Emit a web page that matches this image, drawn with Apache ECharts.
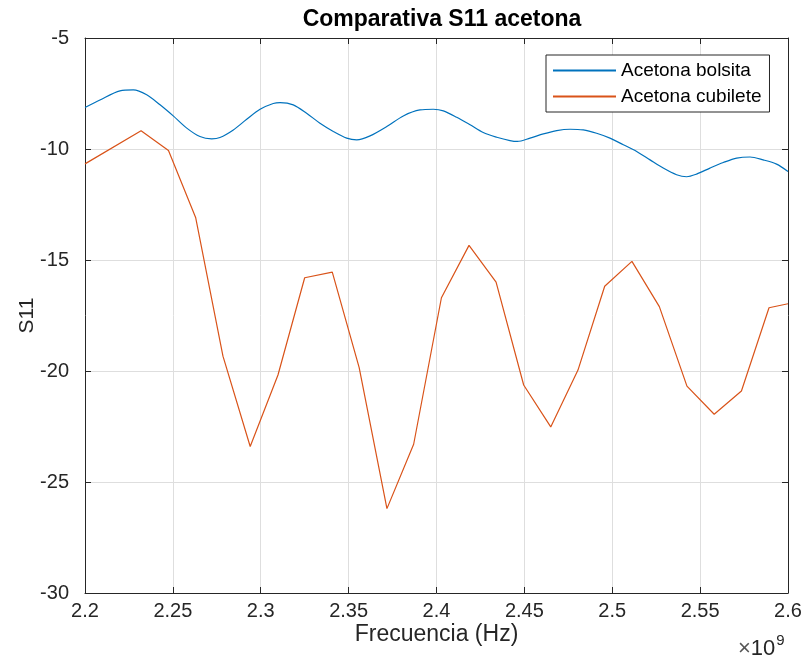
<!DOCTYPE html>
<html>
<head>
<meta charset="utf-8">
<script src="https://cdn.jsdelivr.net/npm/echarts@6/dist/echarts.min.js"></script>
<style>
  html, body { margin: 0; padding: 0; background: #fff; }
  #chart { width: 807px; height: 664px; }
</style>
</head>
<body>
<div id="chart"></div>
<script>
// Frequency in GHz (axis shows x10^9 multiplier), S11 in dB
const bolsitaFreq = [2.2, 2.2085, 2.2199, 2.2275, 2.2351, 2.2427, 2.2502, 2.2579, 2.2654, 2.2721,
  2.2768, 2.2844, 2.292, 2.2996, 2.3071, 2.311, 2.3185, 2.3261, 2.3337, 2.3413,
  2.3489, 2.3546, 2.3622, 2.3717, 2.3811, 2.3906, 2.3982, 2.4039, 2.4115, 2.4191,
  2.4266, 2.4343, 2.4418, 2.446, 2.4532, 2.4608, 2.4684, 2.476, 2.4835, 2.4911,
  2.4987, 2.5063, 2.5139, 2.5215, 2.529, 2.5366, 2.5423, 2.548, 2.5556, 2.5632,
  2.5708, 2.5784, 2.5859, 2.5935, 2.6];
const bolsitaS11 = [-8.13, -7.79, -7.38, -7.34, -7.56, -8.01, -8.51, -9.06, -9.44, -9.54,
  -9.48, -9.14, -8.66, -8.21, -7.95, -7.91, -8.01, -8.39, -8.84, -9.21,
  -9.51, -9.59, -9.41, -8.99, -8.51, -8.24, -8.21, -8.28, -8.57, -8.91,
  -9.26, -9.47, -9.62, -9.66, -9.51, -9.32, -9.17, -9.11, -9.14, -9.29,
  -9.51, -9.81, -10.11, -10.49, -10.86, -11.16, -11.25, -11.13, -10.86, -10.61,
  -10.41, -10.36, -10.49, -10.68, -11.01];

const cubileteFreq = [2.2, 2.2319, 2.2475, 2.263, 2.2785, 2.294, 2.3098, 2.325, 2.3407, 2.356,
  2.3718, 2.387, 2.4028, 2.4185, 2.4339, 2.4496, 2.465, 2.4805, 2.4957, 2.5112,
  2.5268, 2.5425, 2.558, 2.5735, 2.5892, 2.6];
const cubileteS11 = [-10.67, -9.18, -10.07, -13.1, -19.33, -23.4, -20.18, -15.8, -15.55, -19.85,
  -26.2, -23.3, -16.7, -14.34, -16.0, -20.63, -22.52, -19.96, -16.18, -15.06,
  -17.1, -20.68, -21.95, -20.9, -17.15, -16.97];

const seriesNames = ['Acetona bolsita', 'Acetona cubilete'];
const titleText = 'Comparativa S11 acetona';
const xLabel = 'Frecuencia (Hz)';
const yLabel = 'S11';

const FONT = 'Liberation Sans, Arial, Helvetica, sans-serif';
const AXIS_COLOR = '#262626';

const pairs = (xs, ys) => xs.map((x, i) => [x, ys[i]]);
const fmtX = v => String(Math.round(v * 100) / 100);

const boxAxis = {
  axisLine: { show: true, lineStyle: { color: AXIS_COLOR, width: 1 } },
  axisTick: { show: true, inside: true, length: 6, lineStyle: { color: AXIS_COLOR } },
  axisLabel: { show: false },
  splitLine: { show: false }
};

const chart = echarts.init(document.getElementById('chart'), null, { renderer: 'canvas' });
chart.setOption({
  backgroundColor: '#ffffff',
  animation: false,
  title: {
    text: titleText,
    left: 437,
    top: 3,
    textAlign: 'center',
    textStyle: { fontFamily: FONT, fontSize: 23, fontWeight: 'bold', color: '#000' }
  },
  grid: { left: 85, right: 19, top: 38, bottom: 71, containLabel: false },
  legend: {
    data: seriesNames,
    orient: 'vertical',
    left: 546,
    top: 55,
    itemWidth: 63,
    itemHeight: 14,
    itemGap: 7,
    padding: [6, 8, 6, 6],
    borderColor: AXIS_COLOR,
    borderWidth: 1,
    backgroundColor: '#fff',
    itemStyle: { opacity: 0 },
    textStyle: { fontFamily: FONT, fontSize: 19, color: '#000' }
  },
  xAxis: [{
    type: 'value',
    min: 2.2, max: 2.6, interval: 0.05,
    name: xLabel,
    nameLocation: 'middle',
    nameGap: 30,
    nameMoveOverlap: false,
    nameTextStyle: { fontFamily: FONT, fontSize: 23, color: AXIS_COLOR, verticalAlign: 'top' },
    axisLine: { show: true, onZero: false, lineStyle: { color: AXIS_COLOR, width: 1 } },
    axisTick: { show: true, inside: true, length: 6, lineStyle: { color: AXIS_COLOR } },
    axisLabel: { fontFamily: FONT, fontSize: 20, color: AXIS_COLOR, margin: 8, formatter: fmtX },
    splitLine: { show: true, lineStyle: { color: '#dedede', width: 1 } }
  }, Object.assign({ type: 'value', position: 'top', min: 2.2, max: 2.6, interval: 0.05 }, boxAxis)],
  yAxis: [{
    type: 'value',
    min: -30, max: -5, interval: 5,
    name: yLabel,
    nameLocation: 'middle',
    nameGap: 47,
    nameMoveOverlap: false,
    nameRotate: 90,
    nameTextStyle: { fontFamily: FONT, fontSize: 21, color: AXIS_COLOR },
    axisLine: { show: true, onZero: false, lineStyle: { color: AXIS_COLOR, width: 1 } },
    axisTick: { show: true, inside: true, length: 6, lineStyle: { color: AXIS_COLOR } },
    axisLabel: { fontFamily: FONT, fontSize: 20, color: AXIS_COLOR, margin: 16 },
    splitLine: { show: true, lineStyle: { color: '#dedede', width: 1 } }
  }, Object.assign({ type: 'value', position: 'right', min: -30, max: -5, interval: 5 }, boxAxis)],
  graphic: [{
    type: 'text',
    left: 738,
    top: 633,
    style: {
      text: '{m|×}{b|10}{s|9}',
      rich: {
        m: { fontFamily: FONT, fontSize: 22, fill: '#555', verticalAlign: 'bottom' },
        b: { fontFamily: FONT, fontSize: 22, fill: AXIS_COLOR, verticalAlign: 'bottom' },
        s: { fontFamily: FONT, fontSize: 15, fill: AXIS_COLOR, verticalAlign: 'top', padding: [0, 0, 12, 1] }
      }
    }
  }],
  series: [{
    name: seriesNames[0],
    type: 'line',
    data: pairs(bolsitaFreq, bolsitaS11),
    symbol: 'none',
    smooth: 0.3,
    lineStyle: { color: '#0072BD', width: 1.2 },
    itemStyle: { color: '#0072BD' }
  }, {
    name: seriesNames[1],
    type: 'line',
    data: pairs(cubileteFreq, cubileteS11),
    symbol: 'none',
    lineStyle: { color: '#D95319', width: 1.2 },
    itemStyle: { color: '#D95319' }
  }]
});
</script>
</body>
</html>
